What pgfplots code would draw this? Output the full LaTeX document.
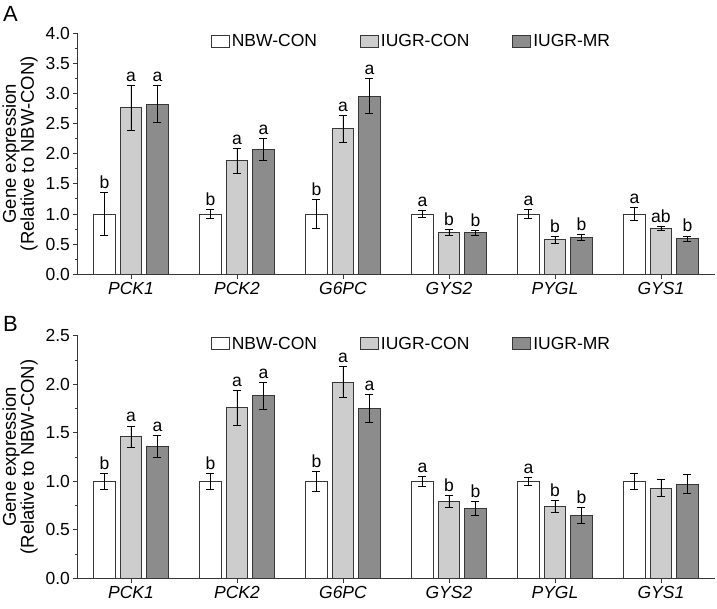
\documentclass[border=0pt]{standalone}
\usepackage{pgfplots}
\usepackage{pgfplotstable}
\pgfplotsset{compat=1.18}
\usepackage{fontspec}
\setmainfont{Liberation Sans}
\newcommand\fs[1]{\fontsize{#1}{1.1\dimexpr#1\relax}\selectfont}

\definecolor{barline}{RGB}{55,55,55}
\definecolor{congray}{RGB}{205,205,205}
\definecolor{mrgray}{RGB}{140,140,140}

% x = gene index; y, e = mean and error; l = letter
\pgfplotstableread{
x gene nbw nbwe nbwl con cone conl mr mre mrl
0 PCK1 1.00 0.35 b 2.76 0.37 a 2.82 0.31 a
1 PCK2 1.00 0.08 b 1.88 0.21 a 2.07 0.18 a
2 G6PC 1.00 0.24 b 2.41 0.23 a 2.95 0.29 a
3 GYS2 1.00 0.065 a 0.69 0.05 b 0.69 0.04 b
4 PYGL 1.00 0.07 a 0.57 0.06 b 0.61 0.045 b
5 GYS1 1.00 0.10 a 0.76 0.04 ab 0.59 0.045 b
}\dataA

\pgfplotstableread{
x gene nbw nbwe nbwl con cone conl mr mre mrl
0 PCK1 1.00 0.08 b 1.46 0.11 a 1.36 0.11 a
1 PCK2 1.00 0.08 b 1.76 0.18 a 1.88 0.14 a
2 G6PC 1.00 0.10 b 2.02 0.16 a 1.75 0.14 a
3 GYS2 1.00 0.05 a 0.79 0.06 b 0.72 0.07 b
4 PYGL 1.00 0.04 a 0.74 0.06 b 0.65 0.08 b
5 GYS1 1.00 0.085 {} 0.93 0.09 {} 0.97 0.10 {}
}\dataB

\pgfplotsset{
  panel/.style={
    scale only axis,
    width=637pt,
    xmin=-0.5, xmax=5.51,
    ymin=0,
    axis x line*=bottom,
    axis y line*=left,
    axis line style={barline, line width=1pt},
    tick style={barline, line width=0.9pt},
    tick align=outside,
    major tick length=4.5pt,
    minor tick length=2.5pt,
    minor y tick num=1,
    xtick={0,...,5},
    xticklabels={PCK1,PCK2,G6PC,GYS2,PYGL,GYS1},
    xticklabel style={font=\fs{17.5pt}\itshape},
    yticklabel style={font=\fs{17.5pt}, /pgf/number format/.cd, fixed, fixed zerofill, precision=1, assume math mode=true},
    ylabel={Gene expression\\(Relative to NBW-CON)},
    every axis y label/.style={at={(axis description cs:-0.091,0.5)}, rotate=90, anchor=center, align=center,
      font=\fontsize{18.5pt}{18pt}\selectfont},
    legend columns=3,
    legend style={at={(0.5236,0.967)}, anchor=center, draw=none, fill=none, font=\fs{17.5pt},
      /tikz/every even column/.append style={column sep=41pt},
      nodes={inner xsep=2pt, inner ysep=0pt}},
    clip=false,
  },
  gbar/.style={ybar, bar width=0.205, bar shift=0, draw=barline, line width=0.9pt,
    legend image code/.code={\draw[##1, line width=0.9pt] (0pt,-6pt) rectangle (18pt,6pt);},
    error bars/y dir=both, error bars/y explicit,
    error bars/error bar style={black, line width=0.9pt},
    error bars/error mark options={rotate=90, mark size=4pt, black, line width=0.9pt}},
  letters/.style={only marks, mark=none, forget plot,
    nodes near coords, point meta=explicit symbolic,
    every node near coord/.append style={font=\fs{17.5pt}, anchor=base, yshift=4pt, inner sep=0pt, black}},
}

\begin{document}
\begin{tikzpicture}
\useasboundingbox (0pt,0pt) rectangle (717pt,-608pt);

\node[anchor=base west, inner sep=0pt, font=\fs{22pt}] at (3pt,-21pt) {A};
\node[anchor=base west, inner sep=0pt, font=\fs{22pt}] at (3pt,-331pt) {B};

\begin{axis}[panel, at={(78pt,-274.3pt)}, anchor=south west, height=241.3pt,
  ymax=4, ytick={0,0.5,1,1.5,2,2.5,3,3.5,4}]
\addplot[gbar, fill=white] table[x expr=\thisrow{x}-0.25, y=nbw, y error=nbwe] {\dataA};
\addplot[gbar, fill=congray] table[x=x, y=con, y error=cone] {\dataA};
\addplot[gbar, fill=mrgray] table[x expr=\thisrow{x}+0.25, y=mr, y error=mre] {\dataA};
\addplot[letters] table[x expr=\thisrow{x}-0.25, y expr=\thisrow{nbw}+\thisrow{nbwe}, meta=nbwl] {\dataA};
\addplot[letters] table[x=x, y expr=\thisrow{con}+\thisrow{cone}, meta=conl] {\dataA};
\addplot[letters] table[x expr=\thisrow{x}+0.25, y expr=\thisrow{mr}+\thisrow{mre}, meta=mrl] {\dataA};
\legend{NBW-CON,IUGR-CON,IUGR-MR}
\end{axis}

\begin{axis}[panel, at={(78pt,-578.3pt)}, anchor=south west, height=242.6pt,
  ymax=2.5, ytick={0,0.5,1,1.5,2,2.5}]
\addplot[gbar, fill=white] table[x expr=\thisrow{x}-0.25, y=nbw, y error=nbwe] {\dataB};
\addplot[gbar, fill=congray] table[x=x, y=con, y error=cone] {\dataB};
\addplot[gbar, fill=mrgray] table[x expr=\thisrow{x}+0.25, y=mr, y error=mre] {\dataB};
\addplot[letters] table[x expr=\thisrow{x}-0.25, y expr=\thisrow{nbw}+\thisrow{nbwe}, meta=nbwl] {\dataB};
\addplot[letters] table[x=x, y expr=\thisrow{con}+\thisrow{cone}, meta=conl] {\dataB};
\addplot[letters] table[x expr=\thisrow{x}+0.25, y expr=\thisrow{mr}+\thisrow{mre}, meta=mrl] {\dataB};
\legend{NBW-CON,IUGR-CON,IUGR-MR}
\end{axis}
\end{tikzpicture}
\end{document}
